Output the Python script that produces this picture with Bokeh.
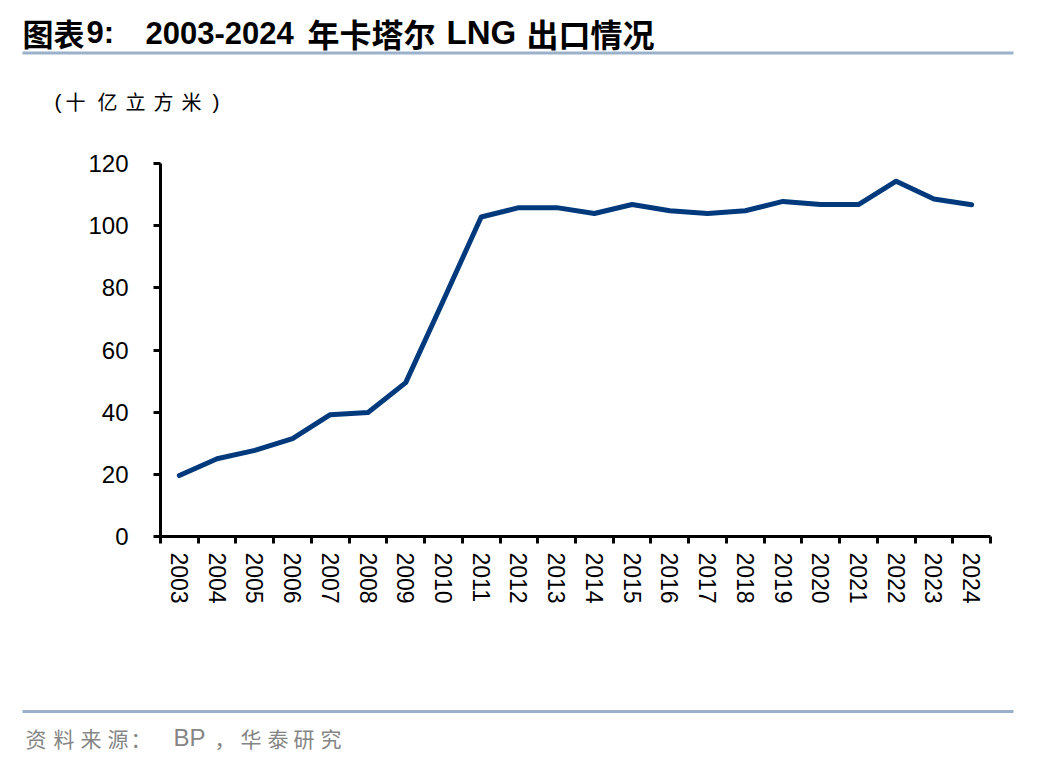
from bokeh.plotting import figure
from bokeh.models import Range1d, FixedTicker
from bokeh.layouts import column
from bokeh.core.properties import value
from bokeh.embed import file_html
from bokeh.resources import INLINE

# ---------------- data ----------------
years = [2003, 2004, 2005, 2006, 2007, 2008, 2009, 2010, 2011, 2012, 2013,
         2014, 2015, 2016, 2017, 2018, 2019, 2020, 2021, 2022, 2023, 2024]
exports = [19.6, 25.0, 27.7, 31.5, 39.2, 39.9, 49.5, 76.0, 102.8, 105.8, 105.8,
           103.9, 106.8, 104.8, 103.9, 104.8, 107.8, 106.8, 106.8, 114.3, 108.6, 106.7]
year_labels = [str(y) for y in years]
y_ticks = [0, 20, 40, 60, 80, 100, 120]

title_parts = ["图表", "9:", "2003-2024", "年卡塔尔", "LNG", "出口情况"]
unit_chars = ["(", "十", "亿", "立", "方", "米", ")"]
source_parts = ["资", "料", "来", "源", "：", "BP", "，", "华", "泰", "研", "究"]

W = 1048
LATIN = "Liberation Sans"
CJK = "Noto Sans CJK SC"
LINE_BLUE = "#003A7D"
RULE = "#9BB1CB"


def blank(y0, y1):
    f = figure(width=W, height=y1 - y0, output_backend="svg", toolbar_location=None,
               x_range=Range1d(0, W), y_range=Range1d(y1, y0),
               min_border=0, min_border_left=0, min_border_right=0,
               min_border_top=0, min_border_bottom=0,
               outline_line_color=None, frame_align=False)
    f.axis.visible = False
    f.grid.visible = False
    return f


# ---------------- top: title + unit ----------------
top = blank(0, 150)
tx = [22, 86, 145, 307, 446, 526]
tf = [CJK, LATIN, LATIN, CJK, LATIN, CJK]
tsz = ["31px", "31px", "31px", "32px", "33px", "32px"]
for t, x, fnt, sz in zip(title_parts, tx, tf, tsz):
    top.text(x=[x], y=[32], text=[t], text_font=value(fnt), text_font_size=value(sz),
             text_font_style="bold", text_color="black",
             text_baseline="middle", text_align="left")
top.segment(x0=[22], y0=[52.5], x1=[1013], y1=[52.5], line_color=RULE, line_width=3)

ux = [54, 65, 97, 125, 153, 181, 212]
for c, x in zip(unit_chars, ux):
    top.text(x=[x], y=[101], text=[c],
             text_font=value(LATIN if c in "()" else CJK),
             text_font_size=value("21px" if c in "()" else "20px"),
             text_color="black", text_baseline="middle", text_align="left")

# ---------------- main chart ----------------
p = figure(width=W, height=540, output_backend="svg", toolbar_location=None,
           x_range=Range1d(2002.5, 2024.5), y_range=Range1d(0, 120),
           min_border_left=160, min_border_right=58,
           min_border_top=13, min_border_bottom=154,
           outline_line_color=None, frame_align=False)
p.grid.visible = False
p.line(years, exports, line_color=LINE_BLUE, line_width=5,
       line_join="round", line_cap="round")

ya = p.yaxis[0]
ya.ticker = FixedTicker(ticks=y_ticks)
ya.axis_line_width = 3
ya.axis_line_color = "black"
ya.major_tick_line_width = 3
ya.major_tick_line_color = "black"
ya.major_tick_out = 7
ya.major_tick_in = 0
ya.minor_tick_line_color = None
ya.major_label_standoff = 25
ya.major_label_text_font = LATIN
ya.major_label_text_font_size = "24px"
ya.major_label_text_color = "black"

xa = p.xaxis[0]
xa.ticker = FixedTicker(ticks=years, minor_ticks=[y - 0.5 for y in years] + [years[-1] + 0.5])
xa.major_label_overrides = {y: s for y, s in zip(years, year_labels)}
xa.axis_line_width = 3
xa.axis_line_color = "black"
xa.major_tick_line_color = None
xa.major_tick_out = 0
xa.major_tick_in = 0
xa.minor_tick_line_color = "black"
xa.minor_tick_line_width = 3
xa.minor_tick_out = 7
xa.minor_tick_in = 0
xa.major_label_orientation = "vertical"
xa.major_label_standoff = 9
xa.major_label_text_font = LATIN
xa.major_label_text_font_size = "23px"
xa.major_label_text_color = "black"

# ---------------- bottom: source ----------------
bot = blank(690, 760)
bot.segment(x0=[22], y0=[711], x1=[1013], y1=[711], line_color=RULE, line_width=3)
srcx = [25, 53, 80, 107, 130, 173, 214, 240, 267, 293, 320]
for s, x in zip(source_parts, srcx):
    bot.text(x=[x], y=[737], text=[s],
             text_font=value(LATIN if s == "BP" else CJK),
             text_font_size=value("24px" if s == "BP" else "21px"),
             text_color="#858585", text_baseline="middle", text_align="left")

layout = column(top, p, bot, spacing=0)
open("out.html", "w").write(file_html(layout, INLINE))
